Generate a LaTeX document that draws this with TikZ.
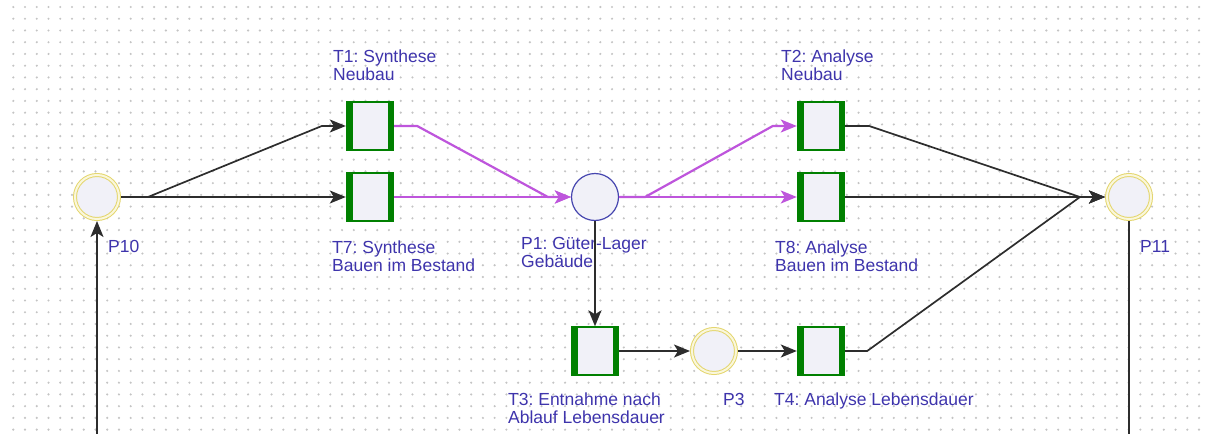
\documentclass[tikz,border=0pt]{standalone}
\usepackage{fontspec}
\setmainfont{Liberation Sans}
\usetikzlibrary{arrows.meta,positioning,calc}
\definecolor{gruenT}{RGB}{0,128,0}
\definecolor{fuellung}{RGB}{241,241,248}
\definecolor{ringgelb}{RGB}{228,214,110}
\definecolor{ringhell}{RGB}{250,247,220}
\definecolor{blauP}{RGB}{70,70,175}
\definecolor{textblau}{RGB}{62,52,172}
\definecolor{lilaPfeil}{RGB}{190,85,220}
\definecolor{kante}{RGB}{45,45,45}
\definecolor{punktgrau}{RGB}{196,196,196}
\tikzset{
  uebergang/.style={rectangle, draw=gruenT, line width=1.4pt, fill=fuellung,
                    minimum width=47pt, minimum height=48pt, inner sep=0pt,
                    path picture={
                      \fill[gruenT] (path picture bounding box.south west)
                        rectangle ([xshift=6pt]path picture bounding box.north west);
                      \fill[gruenT] (path picture bounding box.south east)
                        rectangle ([xshift=-6pt]path picture bounding box.north east);}},
  stelle/.style={circle, draw=ringgelb, line width=1pt, double=ringhell,
                 double distance=2pt, fill=fuellung, minimum size=44pt,
                 inner sep=0pt, outer sep=2pt},
  lager/.style={circle, draw=blauP, line width=1.2pt, fill=fuellung,
                minimum size=47pt, inner sep=0pt},
  beschriftung/.style={font=\fontsize{17.5}{17.7}\selectfont, text=textblau,
                       align=left, inner sep=0pt, anchor=north west},
  linie/.style={line width=1.7pt, kante},
  pfeil/.style={-{Stealth[length=16pt,width=13pt,inset=4pt]}, line width=1.7pt, kante},
  pfeillila/.style={-{Stealth[length=16pt,width=13pt,inset=4pt]}, line width=2.2pt, lilaPfeil},
}
\frenchspacing
\begin{document}
\begin{tikzpicture}[x=1pt, y=-1pt]
  \useasboundingbox (0,0) rectangle (1211,434);
  % Punktraster
  \foreach \i in {0,...,101}
    \foreach \j in {0,...,36}
      \fill[punktgrau] (13.3+11.74*\i, 7+11.74*\j) circle (1.2pt);

  % Stellen und Transitionen
  \node[stelle] (p10) at (97,197) {};
  \node[uebergang] (t1) at (370,126) {};
  \node[uebergang] (t7) at (370,197) {};
  \node[lager] (p1) at (595,197) {};
  \node[uebergang] (t2) at (821,126) {};
  \node[uebergang] (t8) at (821,197) {};
  \node[stelle] (p11) at (1129,197) {};
  \node[uebergang] (t3) at (595,351) {};
  \node[stelle] (p3) at (714,351) {};
  \node[uebergang] (t4) at (821,351) {};

  % Beschriftungen
  \node[beschriftung] (l-t1) at (333,50) {T1: Synthese\\Neubau};
  \node[beschriftung] (l-t2) at (781,50) {T2: Analyse\\Neubau};
  \node[beschriftung] (l-t7) at (332,240.5) {T7: Synthese\\Bauen im Bestand};
  \node[beschriftung] (l-p1) at (521,237.5) {P1: Güter-Lager\\Gebäude};
  \node[beschriftung] (l-t8) at (775,240.5) {T8: Analyse\\Bauen im Bestand};
  \node[beschriftung] (l-p10) at (108,240) {P10};
  \node[beschriftung] (l-p11) at (1140,240) {P11};
  \node[beschriftung] (l-t3) at (508,393) {T3: Entnahme nach\\Ablauf Lebensdauer};
  \node[beschriftung] (l-p3) at (723,393) {P3};
  \node[beschriftung] (l-t4) at (774,393) {T4: Analyse Lebensdauer};

  % Kanten
  \coordinate (knoten11) at ($(p11.west)+(-25,0)$);
  \coordinate (rand10) at (97,434);
  \coordinate (rand11) at (1129,434);
  \draw[pfeil] (p10.east) -- ++(27,0) -- ($(t1.west)+(-24,0)$) -- (t1.west);
  \draw[pfeil] (p10.east) -- (t7.west);
  \draw[pfeillila] (t1.east) -- ++(23,0) -- ($(p1.west)+(-23,0)$) -- (p1.west);
  \draw[pfeillila] (t7.east) -- (p1.west);
  \draw[pfeillila] (p1.east) -- ++(26,0) -- ($(t2.west)+(-24,0)$) -- (t2.west);
  \draw[pfeillila] (p1.east) -- (t8.west);
  \draw[pfeil] (t2.east) -- ++(24,0) -- (knoten11) -- (p11.west);
  \draw[pfeil] (t8.east) -- (p11.west);
  \draw[pfeil] (t4.east) -- ++(22,0) -- (knoten11) -- (p11.west);
  \draw[pfeil] (p1.south) -- (t3.north);
  \draw[pfeil] (t3.east) -- (p3.west);
  \draw[pfeil] (p3.east) -- (t4.west);
  \draw[pfeil] (rand10) -- (p10.south);
  \draw[linie] (p11.south) -- (rand11);
\end{tikzpicture}
\end{document}
